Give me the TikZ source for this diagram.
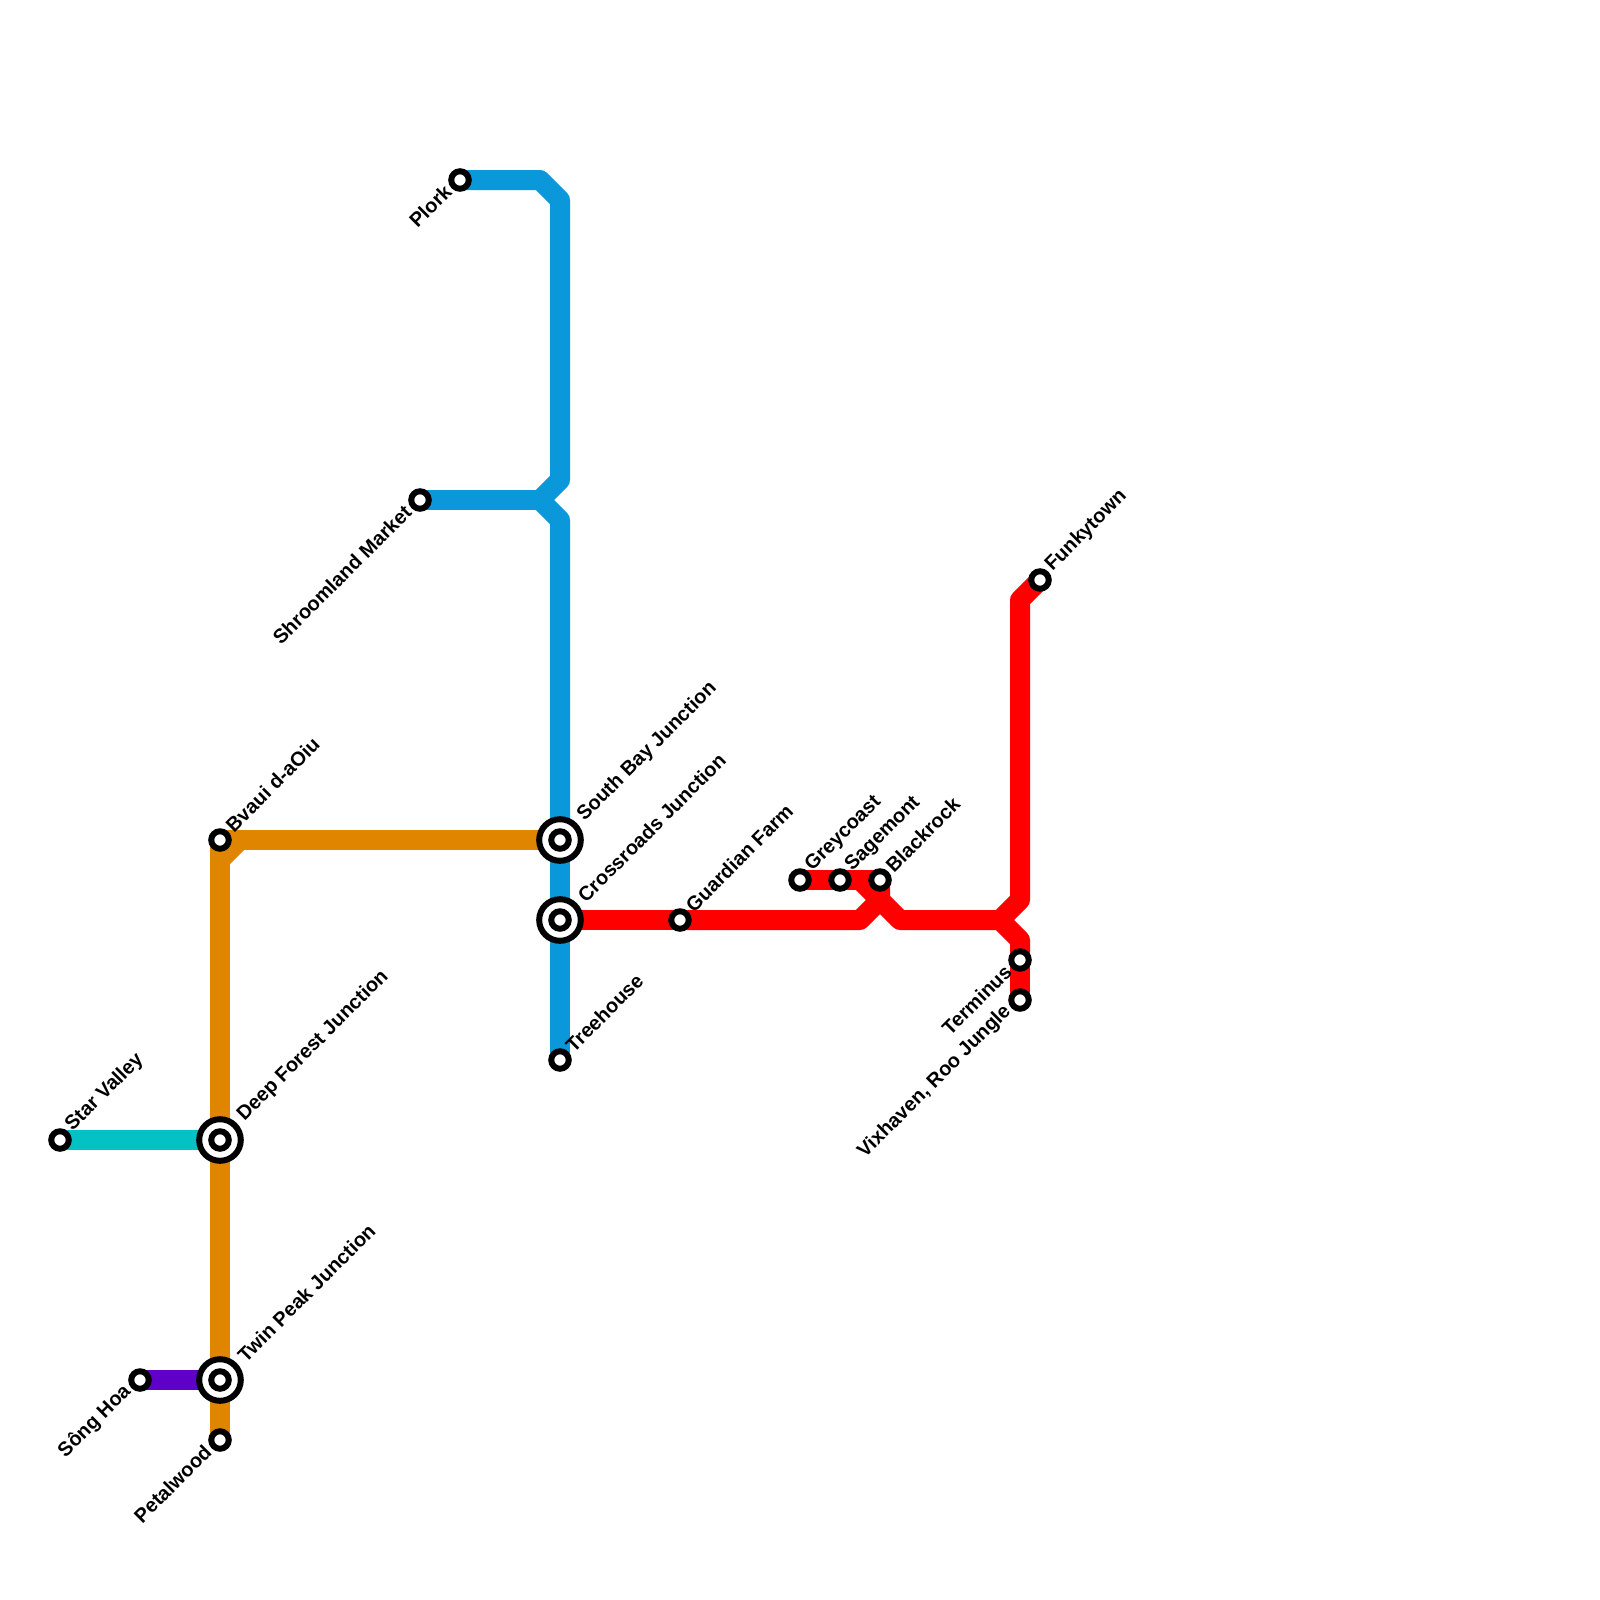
\documentclass[tikz,border=0pt]{standalone}
\usepackage{fontspec}
\setmainfont{Liberation Sans}
\usetikzlibrary{positioning, backgrounds}
\definecolor{lineblue}{RGB}{10,152,218}
\definecolor{lineorange}{RGB}{223,133,0}
\definecolor{lineteal}{RGB}{4,194,195}
\definecolor{linepurple}{RGB}{95,0,200}
\definecolor{linered}{RGB}{255,0,0}
\tikzset{
    route/.style={line width=0.5cm, line join=round},
    stn/.style={circle, draw=black, fill=white, line width=0.15cm, inner sep=0pt, minimum size=0.4375cm},
    hub/.style={circle, draw=black, fill=white, line width=0.15cm, inner sep=0pt, minimum size=1.04cm},
    labne/.style={font=\bfseries\fontsize{14.2pt}{16pt}\selectfont, rotate=45, anchor=west, inner sep=0pt},
    labsw/.style={font=\bfseries\fontsize{14.2pt}{16pt}\selectfont, rotate=45, anchor=east, inner sep=0pt},
}

\begin{document}
\begin{tikzpicture}[x=0.5cm, y=-0.5cm]
\useasboundingbox (0,0) rectangle (80,80);
% interchanges
\foreach \name/\px/\py/\txt in {
    southbay/28/42/South Bay Junction, crossroads/28/46/Crossroads Junction,
    deepforest/11/57/Deep Forest Junction, twinpeak/11/69/Twin Peak Junction}{
    \node[hub] (\name) at (\px,\py) {};
    \node[stn] (\name-in) at (\px,\py) {};
    \node[labne] (\name-lab) at ([shift={(0.52cm,0.54cm)}]\name.center) {\txt};
}
% plain stops, label up and right
\foreach \name/\px/\py/\txt in {
    bvaui/11/42/Bvaui d-aOiu, treehouse/28/53/Treehouse, guardian/34/46/Guardian Farm,
    greycoast/40/44/Greycoast, sagemont/42/44/Sagemont, blackrock/44/44/Blackrock,
    funkytown/52/29/Funkytown, starvalley/3/57/Star Valley}{
    \node[stn] (\name) at (\px,\py) {};
    \node[labne] (\name-lab) at ([shift={(0.22cm,0.29cm)}]\name.center) {\txt};
}
% plain stops, label down and left
\foreach \name/\px/\py/\txt in {
    plork/23/9/Plork, shroomland/21/25/Shroomland Market, terminus/51/48/Terminus,
    vixhaven/51/50/{Vixhaven, Roo Jungle}, songhoa/7/69/Sông Hoa, petalwood/11/72/Petalwood}{
    \node[stn] (\name) at (\px,\py) {};
    \node[labsw] (\name-lab) at ([shift={(-0.3cm,-0.21cm)}]\name.center) {\txt};
}
% bends
\coordinate (b1) at (27,9);
\coordinate (b2) at (28,10);
\coordinate (b3) at (28,24);
\coordinate (b4) at (27,25);
\coordinate (b5) at (28,26);
\coordinate (o1) at (12,42);
\coordinate (o2) at (11,43);
\coordinate (r1) at (43,46);
\coordinate (r2) at (44,45);
\coordinate (r3) at (43,44);
\coordinate (r4) at (45,46);
\coordinate (r5) at (50,46);
\coordinate (r6) at (51,45);
\coordinate (r7) at (51,30);
\coordinate (r8) at (51,47);
\begin{pgfonlayer}{background}
\draw[route, lineblue] (plork.center) -- (b1) -- (b2) -- (b3) -- (b4) -- (b5) -- (southbay.center);
\draw[route, lineblue] (shroomland.center) -- (b4);
\draw[route, lineblue] (southbay.center) -- (crossroads.center);
\draw[route, lineblue] (crossroads.center) -- (treehouse.center);
\draw[route, lineorange] (southbay.center) -- (bvaui.center);
\draw[route, lineorange] (bvaui.center) -- (deepforest.center);
\draw[route, lineorange] (o1) -- (o2);
\draw[route, lineorange] (deepforest.center) -- (twinpeak.center);
\draw[route, lineorange] (twinpeak.center) -- (petalwood.center);
\draw[route, lineteal] (starvalley.center) -- (deepforest.center);
\draw[route, linepurple] (songhoa.center) -- (twinpeak.center);
\draw[route, linered] (crossroads.center) -- (guardian.center);
\draw[route, linered] (guardian.center) -- (r1) -- (r2) -- (blackrock.center);
\draw[route, linered] (greycoast.center) -- (sagemont.center);
\draw[route, linered] (sagemont.center) -- (blackrock.center);
\draw[route, linered] (r3) -- (r4) -- (r5) -- (r6) -- (r7) -- (funkytown.center);
\draw[route, linered] (r5) -- (r8) -- (terminus.center);
\draw[route, linered] (terminus.center) -- (vixhaven.center);
\end{pgfonlayer}
\end{tikzpicture}
\end{document}
